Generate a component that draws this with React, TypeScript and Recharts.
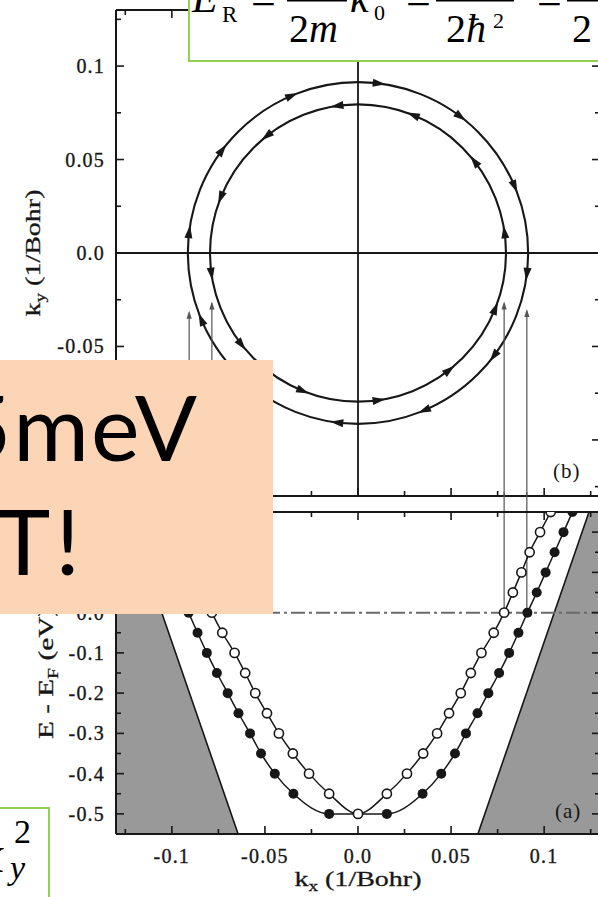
import React from "react"
import {
  ComposedChart,
  Line,
  Area,
  XAxis,
  YAxis,
  ReferenceLine,
  ReferenceArea,
  ReferenceDot,
  Label,
} from "recharts"

// ---- panel (b): constant-energy circles in k-space ----
const kDomain = [-0.13, 0.13]
const kTicks = [-0.125, -0.1, -0.075, -0.05, -0.025, 0, 0.025, 0.05, 0.075, 0.1, 0.125]
const kMajor = [-0.1, -0.05, 0, 0.05, 0.1]
const kMajorLabels = ["-0.1", "-0.05", "0.0", "0.05", "0.1"]

const outerRadius = 0.0914
const innerRadius = 0.0795
// positions of the spin arrows along each circle (degrees)
const outerArrowAngles = [83, 53, 23, -7, -37, -67, -97, -127, -157, 173, 143, 113]
const innerArrowAngles = [8, 38, 68, 98, 128, 158, 188, 218, 248, 278, 308, 338]

// vertical guides from the E_F crossings up to the circles
const guideKx = [-0.0907, -0.0785, 0.0785, 0.0907]
const guideTopKy = [-0.032, -0.027, -0.027, -0.031]

// ---- panel (a): band dispersion ----
const eDomain = [-0.55, 0.25]
const eTicks = [-0.5, -0.45, -0.4, -0.35, -0.3, -0.25, -0.2, -0.15, -0.1, -0.05, 0, 0.05, 0.1, 0.15, 0.2]
const eMajor = [-0.5, -0.4, -0.3, -0.2, -0.1, 0, 0.1, 0.2]
const eMajorLabels = ["-0.5", "-0.4", "-0.3", "-0.2", "-0.1", "0.0", "0.1", "0.2"]

const openKx = [
  -0.1035, -0.0978, -0.0922, -0.0878, -0.0832, -0.0785, -0.0729, -0.0663, -0.0606, -0.0552, -0.0489,
  -0.0425, -0.035, -0.0263, -0.0155, 0, 0.0155, 0.0263, 0.035, 0.0425, 0.0489, 0.0552, 0.0606, 0.0663,
  0.0729, 0.0785, 0.0832, 0.0878, 0.0922, 0.0978, 0.1035,
]
const openE = [
  0.25, 0.2, 0.15, 0.1, 0.05, 0, -0.05, -0.1, -0.15, -0.2, -0.25, -0.3, -0.35, -0.4, -0.45, -0.5, -0.45,
  -0.4, -0.35, -0.3, -0.25, -0.2, -0.15, -0.1, -0.05, 0, 0.05, 0.1, 0.15, 0.2, 0.25,
]
const filledKx = [
  -0.1152, -0.1104, -0.1056, -0.1008, -0.096, -0.091, -0.0862, -0.0812, -0.0758, -0.07, -0.0642, -0.058,
  -0.0521, -0.0447, -0.0347, -0.0155, 0.0155, 0.0347, 0.0447, 0.0521, 0.058, 0.0642, 0.07, 0.0758, 0.0812,
  0.0862, 0.091, 0.096, 0.1008, 0.1056, 0.1104, 0.1152,
]
const filledE = [
  0.25, 0.2, 0.15, 0.1, 0.05, 0, -0.05, -0.1, -0.15, -0.2, -0.25, -0.3, -0.35, -0.4, -0.45, -0.5, -0.5,
  -0.45, -0.4, -0.35, -0.3, -0.25, -0.2, -0.15, -0.1, -0.05, 0, 0.05, 0.1, 0.15, 0.2, 0.25,
]

// shaded regions (bulk states) at the sides
const shadeLeftKx = [-0.13, -0.1241, -0.0644]
const shadeLeftE = [0.25, 0.25, -0.55]
const shadeRightKx = [0.0644, 0.1241, 0.13]
const shadeRightE = [-0.55, 0.25, 0.25]

const rows = (ks: number[], es: number[]) => ks.map((k, i) => ({ k, e: es[i] }))
const openRows = rows(openKx, openE)
const filledRows = rows(filledKx, filledE)
const shadeLeft = rows(shadeLeftKx, shadeLeftE)
const shadeRight = rows(shadeRightKx, shadeRightE)

const FIG_FONT = '"Liberation Serif", Tinos, "Times New Roman", serif'
const NOTE_FONT = 'Lato, "Open Sans", sans-serif'
const INK = "#171717"
const GREEN = "#92D050"

type Side = "left" | "right" | "top" | "bottom"

function makeTick(side: Side, major: number[], labels?: string[]) {
  return function Tick(props: any) {
    const { x, y, payload } = props
    const v = payload.value
    const idx = major.findIndex((m) => Math.abs(m - v) < 1e-9)
    const len = idx >= 0 ? 8 : 5
    let l = { x1: x, y1: y, x2: x, y2: y }
    if (side === "left") l.x2 = x + len
    if (side === "right") l.x2 = x - len
    if (side === "top") l.y2 = y + len
    if (side === "bottom") l.y2 = y - len
    const label = labels && idx >= 0 ? labels[idx] : null
    const txt = {
      fill: INK,
      stroke: INK,
      strokeWidth: 0.35,
      fontSize: 20,
      fontFamily: FIG_FONT,
      letterSpacing: 1.2,
    }
    return (
      <g>
        <line {...l} stroke={INK} strokeWidth={1.6} />
        {label && side === "left" && (
          <text x={x - 11} y={y} dy="0.35em" textAnchor="end" {...txt}>
            {label}
          </text>
        )}
        {label && side === "bottom" && (
          <text x={x} y={y + 29} textAnchor="middle" {...txt}>
            {label}
          </text>
        )}
      </g>
    )
  }
}

function SpinCircle(props: any) {
  const { x, y, width, height, angles, clockwise } = props
  const cx = x + width / 2
  const cy = y + height / 2
  const rx = Math.abs(width) / 2
  const ry = Math.abs(height) / 2
  const heads = (angles as number[]).map((a, i) => {
    const t = (a * Math.PI) / 180
    const px = cx + rx * Math.cos(t)
    const py = cy - ry * Math.sin(t)
    const s = clockwise ? 1 : -1
    const dx = s * Math.sin(t)
    const dy = s * Math.cos(t)
    const nx = -dy
    const ny = dx
    const pts = [
      [px + dx * 7, py + dy * 7],
      [px - dx * 6 + nx * 4, py - dy * 6 + ny * 4],
      [px - dx * 6 - nx * 4, py - dy * 6 - ny * 4],
    ]
    return <polygon key={i} points={pts.map((p) => p.join(",")).join(" ")} fill={INK} />
  })
  return (
    <g>
      <ellipse cx={cx} cy={cy} rx={rx} ry={ry} fill="none" stroke={INK} strokeWidth={2.1} />
      {heads}
    </g>
  )
}

function GuideHead(props: any) {
  const { cx, cy } = props
  return <polygon points={`${cx},${cy - 2} ${cx - 2.6},${cy + 6} ${cx + 2.6},${cy + 6}`} fill="#555" />
}

const openDot = (p: any) => (
  <circle key={`o${p.index}`} cx={p.cx} cy={p.cy} r={4.6} fill="#fff" stroke={INK} strokeWidth={1.6} />
)
const filledDot = (p: any) => <circle key={`f${p.index}`} cx={p.cx} cy={p.cy} r={5} fill={INK} />

const titleY = (text: React.ReactNode, cxOff: number, len: number) => (p: any) => {
  const vb = p.viewBox
  const cx = vb.x + cxOff
  const cy = vb.y + vb.height / 2
  return (
    <text
      x={cx}
      y={cy}
      transform={`rotate(-90 ${cx} ${cy})`}
      textAnchor="middle"
      dy="0.35em"
      fill={INK}
      stroke={INK}
      strokeWidth={0.3}
      fontSize={22}
      fontFamily={FIG_FONT}
      textLength={len}
      lengthAdjust="spacingAndGlyphs"
    >
      {text}
    </text>
  )
}

const titleX = (p: any) => {
  const vb = p.viewBox
  return (
    <text
      x={vb.x + vb.width / 2}
      y={vb.y + 52}
      textAnchor="middle"
      fill={INK}
      stroke={INK}
      strokeWidth={0.3}
      fontSize={22}
      fontFamily={FIG_FONT}
      textLength={127}
      lengthAdjust="spacingAndGlyphs"
    >
      k<tspan fontSize={15} dy={5}>x</tspan>
      <tspan dy={-5}> (1/Bohr)</tspan>
    </text>
  )
}

const axisLine = { stroke: INK, strokeWidth: 2 }

function PanelB() {
  return (
    <ComposedChart width={620} height={512} margin={{ top: 9, right: 19, bottom: 15, left: 0 }}>
      <XAxis
        dataKey="k"
        type="number"
        domain={kDomain}
        allowDataOverflow
        ticks={kTicks}
        interval={0}
        height={1}
        tickSize={0}
        tickMargin={0}
        tickLine={false}
        axisLine={axisLine}
        tick={makeTick("bottom", kMajor)}
      />
      <XAxis
        xAxisId="top"
        orientation="top"
        dataKey="k"
        type="number"
        domain={kDomain}
        allowDataOverflow
        ticks={kTicks}
        interval={0}
        height={1}
        tickSize={0}
        tickMargin={0}
        tickLine={false}
        axisLine={axisLine}
        tick={makeTick("top", kMajor)}
      />
      <YAxis
        type="number"
        domain={kDomain}
        allowDataOverflow
        ticks={kTicks}
        interval={0}
        width={116}
        tickSize={0}
        tickMargin={0}
        tickLine={false}
        axisLine={axisLine}
        tick={makeTick("left", kMajor, kMajorLabels)}
        label={
          <Label
            content={titleY(
              <>
                k<tspan fontSize={15} dy={5}>y</tspan>
                <tspan dy={-5}> (1/Bohr)</tspan>
              </>,
              32,
              127
            )}
          />
        }
      />
      <YAxis
        yAxisId="right"
        orientation="right"
        type="number"
        domain={kDomain}
        allowDataOverflow
        ticks={kTicks}
        interval={0}
        width={1}
        tickSize={0}
        tickMargin={0}
        tickLine={false}
        axisLine={axisLine}
        tick={makeTick("right", kMajor)}
      />
      <ReferenceLine y={0} stroke={INK} strokeWidth={1.8} />
      <ReferenceLine x={0} stroke={INK} strokeWidth={1.8} />
      {guideKx.map((k, i) => (
        <ReferenceLine
          key={`g${i}`}
          segment={[
            { x: k, y: guideTopKy[i] },
            { x: k, y: kDomain[0] },
          ]}
          stroke="#555"
          strokeWidth={1.2}
        />
      ))}
      {guideKx.map((k, i) => (
        <ReferenceDot key={`h${i}`} x={k} y={guideTopKy[i]} shape={(p: any) => <GuideHead {...p} />} />
      ))}
      <ReferenceArea
        x1={-outerRadius}
        x2={outerRadius}
        y1={-outerRadius}
        y2={outerRadius}
        ifOverflow="visible"
        shape={(p: any) => <SpinCircle {...p} angles={outerArrowAngles} clockwise />}
      />
      <ReferenceArea
        x1={-innerRadius}
        x2={innerRadius}
        y1={-innerRadius}
        y2={innerRadius}
        ifOverflow="visible"
        shape={(p: any) => <SpinCircle {...p} angles={innerArrowAngles} clockwise={false} />}
      />
    </ComposedChart>
  )
}

function PanelA() {
  return (
    <ComposedChart width={620} height={407} margin={{ top: 21, right: 19, bottom: 0, left: 0 }}>
      <XAxis
        dataKey="k"
        type="number"
        domain={kDomain}
        allowDataOverflow
        ticks={kTicks}
        interval={0}
        height={63}
        tickSize={0}
        tickMargin={0}
        tickLine={false}
        axisLine={axisLine}
        tick={makeTick("bottom", kMajor, kMajorLabels)}
        label={<Label content={titleX} />}
      />
      <XAxis
        xAxisId="top"
        orientation="top"
        dataKey="k"
        type="number"
        domain={kDomain}
        allowDataOverflow
        ticks={kTicks}
        interval={0}
        height={1}
        tickSize={0}
        tickMargin={0}
        tickLine={false}
        axisLine={axisLine}
        tick={makeTick("top", kMajor)}
      />
      <YAxis
        type="number"
        domain={eDomain}
        allowDataOverflow
        ticks={eTicks}
        interval={0}
        width={116}
        tickSize={0}
        tickMargin={0}
        tickLine={false}
        axisLine={axisLine}
        tick={makeTick("left", eMajor, eMajorLabels)}
        label={
          <Label
            content={titleY(
              <>
                E - E<tspan fontSize={15} dy={5}>F</tspan>
                <tspan dy={-5}> (eV)</tspan>
              </>,
              45,
              132
            )}
          />
        }
      />
      <YAxis
        yAxisId="right"
        orientation="right"
        type="number"
        domain={eDomain}
        allowDataOverflow
        ticks={eTicks}
        interval={0}
        width={1}
        tickSize={0}
        tickMargin={0}
        tickLine={false}
        axisLine={axisLine}
        tick={makeTick("right", eMajor)}
      />
      <Area
        data={shadeLeft}
        dataKey="e"
        type="linear"
        baseValue="dataMin"
        fill="#999"
        fillOpacity={1}
        stroke={INK}
        strokeWidth={1.6}
        isAnimationActive={false}
      />
      <Area
        data={shadeRight}
        dataKey="e"
        type="linear"
        baseValue="dataMin"
        fill="#999"
        fillOpacity={1}
        stroke={INK}
        strokeWidth={1.6}
        isAnimationActive={false}
      />
      <ReferenceLine y={0} stroke="#6a6a6a" strokeWidth={2} strokeDasharray="14 4 3 4" />
      {guideKx.map((k, i) => (
        <ReferenceLine
          key={`g${i}`}
          segment={[
            { x: k, y: 0 },
            { x: k, y: 0.3 },
          ]}
          ifOverflow="visible"
          stroke="#555"
          strokeWidth={1.2}
        />
      ))}
      <Line
        data={filledRows}
        dataKey="e"
        type="monotone"
        stroke={INK}
        strokeWidth={1.5}
        dot={filledDot}
        isAnimationActive={false}
      />
      <Line
        data={openRows}
        dataKey="e"
        type="monotone"
        stroke={INK}
        strokeWidth={1.5}
        dot={openDot}
        isAnimationActive={false}
      />
    </ComposedChart>
  )
}

const mathText = { fontFamily: FIG_FONT, fill: "#000" }

export default function App() {
  return (
    <div
      style={{
        position: "absolute",
        left: 0,
        top: 0,
        width: 598,
        height: 897,
        overflow: "hidden",
        background: "#fff",
      }}
    >
      <div style={{ position: "absolute", left: 0, top: 0 }}>
        <PanelB />
      </div>
      <div style={{ position: "absolute", left: 0, top: 490 }}>
        <PanelA />
      </div>

      {/* panel tags */}
      <svg style={{ position: "absolute", left: 0, top: 0 }} width={598} height={897}>
        <text x={553} y={478} fontSize={21} fontFamily={FIG_FONT} fill={INK} letterSpacing={1}>
          (b)
        </text>
        <text x={555} y={818} fontSize={21} fontFamily={FIG_FONT} fill={INK} letterSpacing={1}>
          (a)
        </text>
      </svg>

      {/* formula box at the top */}
      <div
        style={{
          position: "absolute",
          left: 188,
          top: -30,
          width: 460,
          height: 92,
          boxSizing: "border-box",
          border: `2.5px solid ${GREEN}`,
          background: "#fff",
        }}
      />
      <svg style={{ position: "absolute", left: 0, top: 0 }} width={598} height={62}>
        <g {...mathText}>
          <text x={192} y={12} fontSize={42} fontStyle="italic">E</text>
          <text x={222} y={22} fontSize={23}>R</text>
          <text x={251} y={14} fontSize={44}>=</text>
          <rect x={287} y={-1} width={60} height={2.5} fill="#000" />
          <text x={289} y={42} fontSize={40}>
            2<tspan fontStyle="italic">m</tspan>
          </text>
          <text x={350} y={12} fontSize={42} fontStyle="italic">k</text>
          <text x={374} y={20} fontSize={22}>0</text>
          <text x={406} y={14} fontSize={44}>=</text>
          <rect x={436} y={-1} width={78} height={2.5} fill="#000" />
          <text x={446} y={42} fontSize={40}>
            2<tspan fontStyle="italic">ħ</tspan>
          </text>
          <text x={493} y={28} fontSize={22}>2</text>
          <text x={537} y={14} fontSize={44}>=</text>
          <rect x={567} y={-1} width={40} height={2.5} fill="#000" />
          <text x={572} y={42} fontSize={40}>2</text>
        </g>
      </svg>

      {/* orange note box */}
      <div
        style={{
          position: "absolute",
          left: -10,
          top: 360,
          width: 283,
          height: 254,
          background: "#FBD5B5",
        }}
      />
      <svg style={{ position: "absolute", left: 0, top: 360 }} width={273} height={254}>
        <text x={-42} y={101} fontSize={92} fontFamily={NOTE_FONT} fill="#000" letterSpacing={2}>
          5meV
        </text>
        <text x={-4} y={215} fontSize={92} fontFamily={NOTE_FONT} fill="#000" letterSpacing={5}>
          T!
        </text>
      </svg>

      {/* bottom-left formula box */}
      <div
        style={{
          position: "absolute",
          left: -20,
          top: 807,
          width: 70,
          height: 120,
          boxSizing: "border-box",
          border: `2.5px solid ${GREEN}`,
          background: "#fff",
        }}
      />
      <svg style={{ position: "absolute", left: 0, top: 807 }} width={48} height={90}>
        <g {...mathText}>
          <text x={-20} y={65} fontSize={52} fontStyle="italic">k</text>
          <text x={14} y={36} fontSize={34}>2</text>
          <text x={10} y={72} fontSize={34} fontStyle="italic">y</text>
        </g>
      </svg>
    </div>
  )
}
